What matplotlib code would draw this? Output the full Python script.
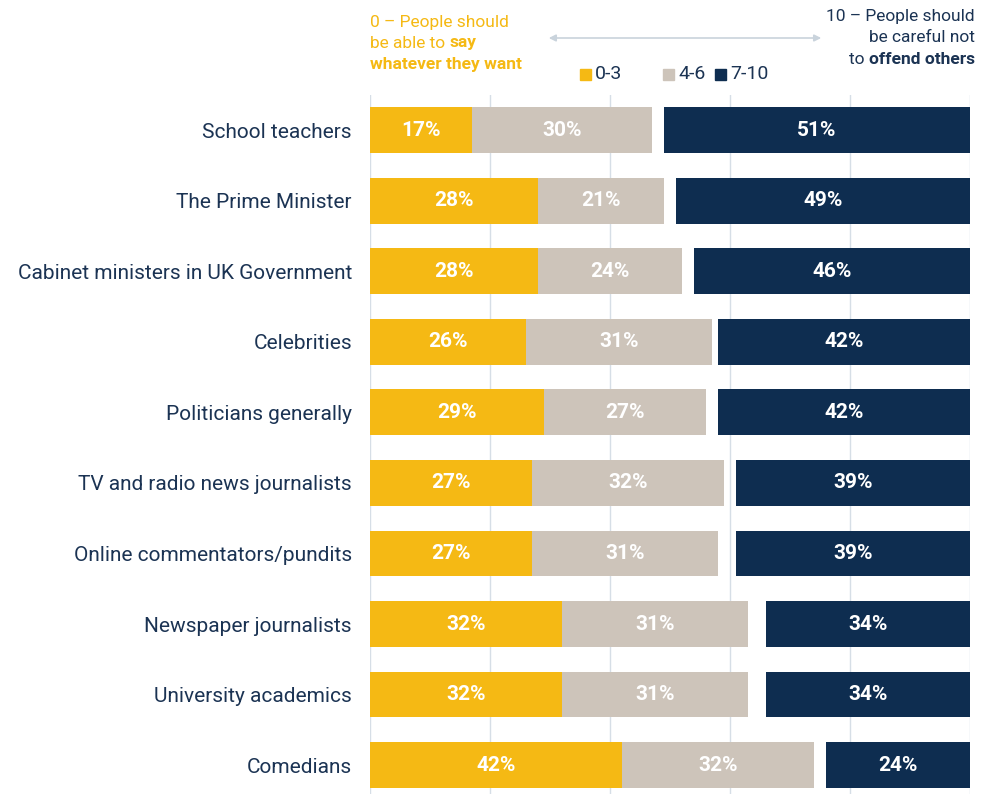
import numpy as np
import matplotlib.pyplot as plt
from matplotlib import font_manager

names = [f.name for f in font_manager.fontManager.ttflist]
if "Liberation Sans Narrow" in names:
    FONT = ["Liberation Sans Narrow", "DejaVu Sans"]
else:
    FONT = ["Roboto", "DejaVu Sans"]
plt.rcParams['font.family'] = FONT

categories = ["School teachers", "The Prime Minister", "Cabinet ministers in UK Government",
              "Celebrities", "Politicians generally", "TV and radio news journalists",
              "Online commentators/pundits", "Newspaper journalists", "University academics",
              "Comedians"]
low = [17, 28, 28, 26, 29, 27, 27, 32, 32, 42]
mid = [30, 21, 24, 31, 27, 32, 31, 31, 31, 32]
high = [51, 49, 46, 42, 42, 39, 39, 34, 34, 24]
legend_labels = ["0-3", "4-6", "7-10"]

YELLOW = "#F5B914"
GREY = "#CDC4BA"
NAVY = "#0E2D50"
TEXT = "#1B3353"
GRID = "#D6DEE6"

fig = plt.figure(figsize=(9.88, 7.94), dpi=100)
ax = fig.add_axes([370 / 988, 0, 600 / 988, (794 - 95) / 794])

y = np.arange(len(categories))
low = np.array(low)
mid = np.array(mid)
high = np.array(high)
h = 0.65
ax.barh(y, low, h, color=YELLOW, zorder=2)
ax.barh(y, mid, h, left=low, color=GREY, zorder=2)
ax.barh(y, high, h, left=100 - high, color=NAVY, zorder=2)

for i in range(len(y)):
    for start, w in [(0, low[i]), (low[i], mid[i]), (100 - high[i], high[i])]:
        ax.text(start + w / 2, y[i], f"{w}%", ha="center", va="center",
                color="white", fontsize=15, fontweight="bold", zorder=3)

ax.set_xlim(0, 100)
ax.set_ylim(9.41, -0.5)
ax.set_xticks([])
for gx in range(0, 101, 20):
    ax.axvline(gx, color=GRID, lw=1, zorder=1)
ax.set_yticks(y)
ax.set_yticklabels(categories, fontsize=15, color=TEXT)
ax.tick_params(axis="y", length=0, pad=13)
for s in ax.spines.values():
    s.set_visible(False)

# header notes
fig.canvas.draw()
r = fig.canvas.get_renderer()
fs = 12.5
def px(x, yy):
    return x / 988, 1 - yy / 794

fig.text(*px(370, 22), "0 – People should", color=YELLOW, fontsize=fs, va="center", ha="left")
t = fig.text(*px(370, 43), "be able to ", color=YELLOW, fontsize=fs, va="center", ha="left")
bb = t.get_window_extent(r)
fig.text(bb.x1 / 988, 1 - 43 / 794, "say", color=YELLOW, fontsize=fs, va="center",
         ha="left", fontweight="bold")
fig.text(*px(370, 64), "whatever they want", color=YELLOW, fontsize=fs, va="center",
         ha="left", fontweight="bold")

fig.text(*px(975, 17), "10 – People should", color=TEXT, fontsize=fs, va="center", ha="right")
fig.text(*px(975, 38), "be careful not", color=TEXT, fontsize=fs, va="center", ha="right")
t = fig.text(*px(975, 59), "offend others", color=TEXT, fontsize=fs, va="center",
             ha="right", fontweight="bold")
bb = t.get_window_extent(r)
fig.text(bb.x0 / 988, 1 - 59 / 794, "to ", color=TEXT, fontsize=fs, va="center", ha="right")

fig.patches.append(plt.matplotlib.patches.FancyArrowPatch(
    px(546, 38), px(824, 38), transform=fig.transFigure, arrowstyle="<|-|>",
    mutation_scale=10, color="#C9D3DC", lw=1.2))

# legend
for lx, c, lab in [(580, YELLOW, legend_labels[0]), (663, GREY, legend_labels[1]),
                   (715, NAVY, legend_labels[2])]:
    fig.patches.append(plt.matplotlib.patches.Rectangle(
        (lx / 988, 1 - 80 / 794), 11 / 988, 11 / 794, transform=fig.transFigure,
        color=c))
    fig.text((lx + 15) / 988, 1 - 74 / 794, lab, color=TEXT, fontsize=14, va="center",
             ha="left")

fig.savefig("out.png", dpi=100)
